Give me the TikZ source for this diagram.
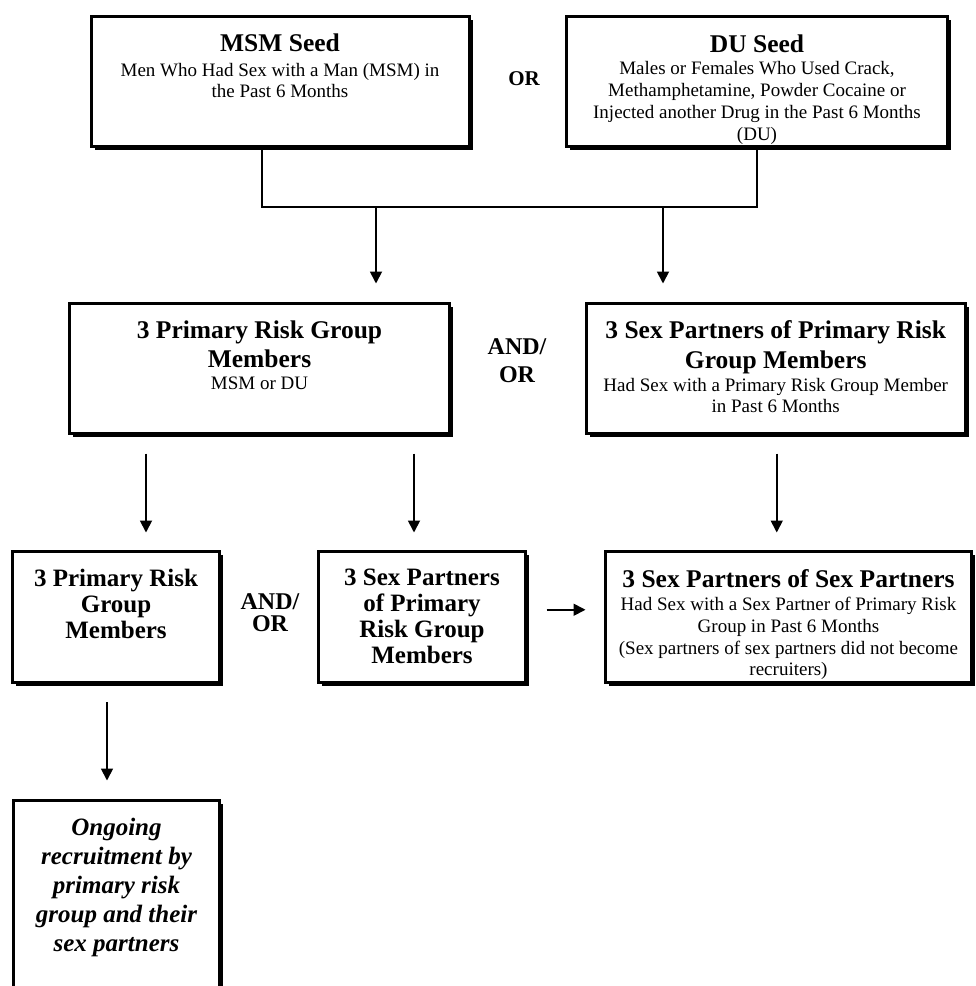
\documentclass[tikz,border=0pt]{standalone}
\usepackage{fontspec}
\setmainfont{Liberation Serif}
\usepackage{tikz}
\usetikzlibrary{arrows.meta,positioning,shadows}
\setlength{\lineskiplimit}{-100pt}
\newcommand{\ttl}[1]{{\fontsize{25.5}{22}\selectfont\bfseries #1}}

\begin{document}
\begin{tikzpicture}[
  x=1pt, y=-1pt,
  box/.style={draw, line width=3pt, fill=white, outer sep=0pt, inner sep=0pt,
              drop shadow={shadow xshift=3.5pt, shadow yshift=-3.5pt, fill=black, opacity=1}},
  txt/.style={align=center, inner sep=0pt, font=\fontsize{19}{22}\selectfont},
  bigtxt/.style={align=center, inner sep=0pt, font=\fontsize{25}{26}\selectfont\bfseries},
  andor/.style={align=center, inner sep=0pt, font=\fontsize{24}{28}\selectfont\bfseries},
  arr/.style={-{Triangle[width=12pt,length=12pt]}, line width=1.8pt},
  link/.style={line width=1.8pt}
]
  \useasboundingbox (0,0) rectangle (976,986);

  % seeds
  \node[box, minimum width=378pt, minimum height=130pt] (msm) at (280,81.5) {};
  \node[txt, below=17pt of msm.north] (msmtxt)
    {\ttl{MSM Seed}\\[3pt] Men Who Had Sex with a Man (MSM) in\\[-1pt] the Past 6 Months};
  \node[box, minimum width=381pt, minimum height=130pt] (du) at (757,81.5) {};
  \node[txt, below=18pt of du.north] (dutxt)
    {\ttl{DU Seed}\\ Males or Females Who Used Crack,\\ Methamphetamine, Powder Cocaine or\\
     Injected another Drug in the Past 6 Months\\ (DU)};
  \node[andor, font=\fontsize{21}{24}\selectfont\bfseries] (or1) at (524,79) {OR};

  % first wave
  \node[box, minimum width=380pt, minimum height=130pt] (prim) at (259.5,368.5) {};
  \node[txt, below=17pt of prim.north] (primtxt)
    {\ttl{3 Primary Risk Group}\\[7pt] \ttl{Members}\\ MSM or DU};
  \node[box, minimum width=378.5pt, minimum height=130pt] (sexp) at (775.75,368.5) {};
  \node[txt, below=17pt of sexp.north] (sexptxt)
    {\ttl{3 Sex Partners of Primary Risk}\\[8pt] \ttl{Group Members}\\[1pt]
     Had Sex with a Primary Risk Group Member\\[-1pt] in Past 6 Months};
  \node[andor] (andor1) at (517,361) {AND/\\OR};

  % second wave
  \node[box, minimum width=207pt, minimum height=130.5pt] (prim2) at (116,616.75) {};
  \node[bigtxt, below=17pt of prim2.north] (prim2txt) {3 Primary Risk\\ Group\\ Members};
  \node[box, minimum width=207pt, minimum height=130.5pt] (sexp2) at (422,616.75) {};
  \node[bigtxt, below=17pt of sexp2.north] (sexp2txt) {3 Sex Partners\\ of Primary\\ Risk Group\\ Members};
  \node[box, minimum width=366pt, minimum height=130.5pt] (sos) at (788.5,616.75) {};
  \node[txt, below=18pt of sos.north] (sostxt)
    {\ttl{3 Sex Partners of Sex Partners}\\[1pt] Had Sex with a Sex Partner of Primary Risk\\
     Group in Past 6 Months\\ (Sex partners of sex partners did not become\\[-1pt] recruiters)};
  \node[andor, font=\fontsize{24}{22}\selectfont\bfseries] (andor2) at (270,613) {AND/\\OR};

  % ongoing
  \node[box, minimum width=206pt, minimum height=230pt] (ongoing) at (116.5,915.5) {};
  \node[bigtxt, font=\fontsize{25}{29}\selectfont\bfseries\itshape, below=17pt of ongoing.north] (ongoingtxt)
    {Ongoing\\ recruitment by\\ primary risk\\ group and their\\ sex partners};

  % connectors
  \coordinate (bus) at (0,207);
  \coordinate (a1) at (376,207);
  \coordinate (a2) at (663,207);
  \coordinate (c1) at (146,0);
  \coordinate (c2) at (414,0);
  \coordinate (c3) at (107,0);
  \draw[link] ([xshift=-18pt]msm.south) |- (bus -| du.south) -- (du.south);
  \draw[arr, shorten >=20pt] (a1) -- (a1 |- prim.north);
  \draw[arr, shorten >=20pt] (a2) -- (a2 |- sexp.north);
  \draw[arr, shorten <=20pt, shorten >=19pt] (prim.south -| c1) -- (prim2.north -| c1);
  \draw[arr, shorten <=20pt, shorten >=19pt] (prim.south -| c2) -- (sexp2.north -| c2);
  \draw[arr, shorten <=20pt, shorten >=19pt] ([xshift=1pt]sexp.south) -- ([xshift=1pt]sexp.south |- sos.north);
  \draw[arr, shorten <=21pt, shorten >=20pt] ([yshift=7pt]sexp2.east) -- ([yshift=7pt]sexp2.east -| sos.west);
  \draw[arr, shorten <=20pt, shorten >=20pt] (prim2.south -| c3) -- (ongoing.north -| c3);
\end{tikzpicture}
\end{document}
